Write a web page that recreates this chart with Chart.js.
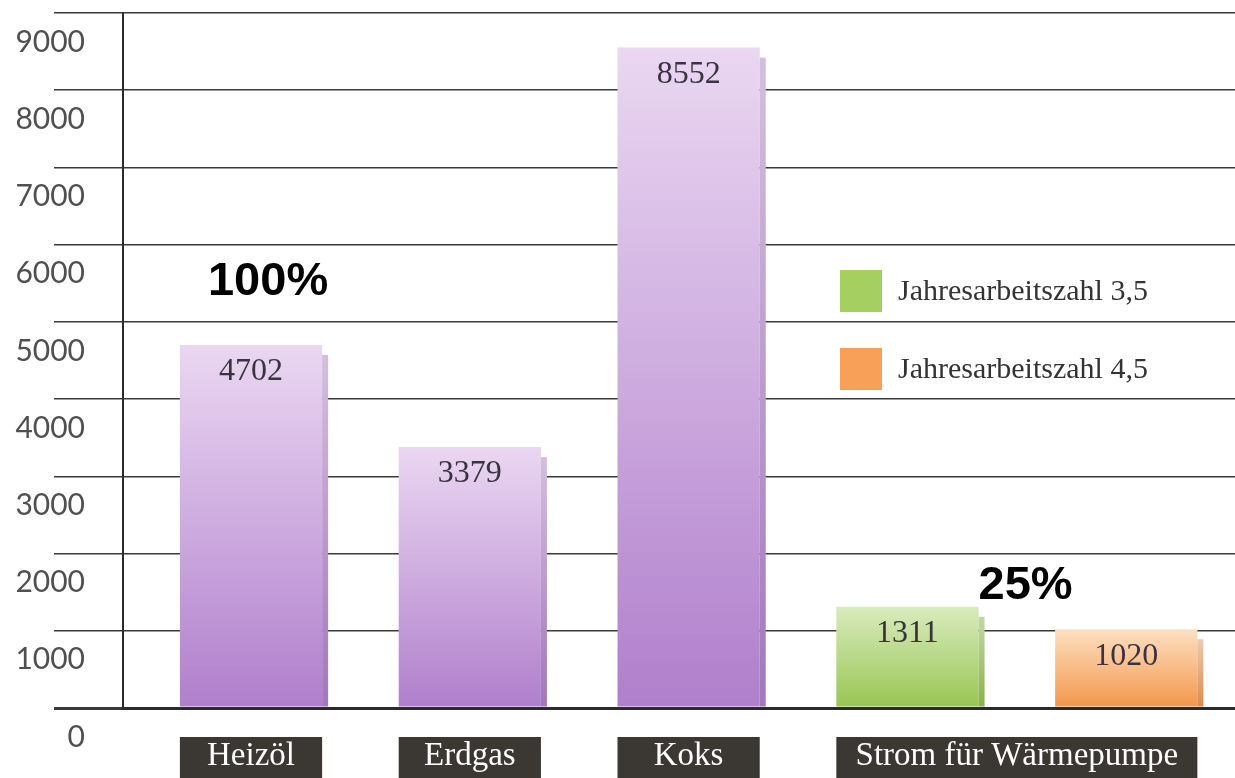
<!DOCTYPE html>
<html><head><meta charset="utf-8">
<script src="https://cdn.jsdelivr.net/npm/chart.js@4/dist/chart.umd.min.js"></script>
<style>html,body{margin:0;padding:0;background:#fff;}#wrap{width:1235px;height:778px;position:relative;}</style>
</head><body><div id="wrap"><canvas id="c"></canvas></div>
<script>
// ---- data ----
const categories = ['Heizöl', 'Erdgas', 'Koks', 'Strom für Wärmepumpe'];
const fuelValues = [4702, 3379, 8552];
const heatPumpSeries = ['Jahresarbeitszahl 3,5', 'Jahresarbeitszahl 4,5'];
const heatPumpValues = [1311, 1020];
const yTickValues = [0, 1000, 2000, 3000, 4000, 5000, 6000, 7000, 8000, 9000];
const shareLabels = ['100%', '25%'];

// slot order of bars along the x axis
const fuelSlots = [1, 2, 3];
const heatPumpSlots = [4, 5];
const categorySlots = [[1], [2], [3], [4, 5]];

// ---- styles ----
const SERIF = '"Liberation Serif", "DejaVu Serif", serif';
const fills = {
  fuel:  ['#ead7f1', '#b07fcc'],
  jaz35: ['#d9ebbd', '#98c552'],
  jaz45: ['#fde0c2', '#f3954a']
};
const sides = {
  fuel:  ['#d3bfdd', '#a277bd'],
  jaz35: ['#c3d8a6', '#88b24c'],
  jaz45: ['#ebcbb0', '#df8b47']
};
const swatch = { jaz35: '#a6cf62', jaz45: '#f89f58' };

function grad(key) {
  return (c) => {
    const ch = c.chart, area = ch.chartArea;
    if (!area || c.type !== 'data' || !c.raw) return fills[key][1];
    const yTop = ch.scales.y.getPixelForValue(c.raw.y);
    const g = ch.ctx.createLinearGradient(0, yTop, 0, area.bottom);
    g.addColorStop(0, fills[key][0]);
    g.addColorStop(1, fills[key][1]);
    return g;
  };
}

const labelBoxes = {
  id: 'labelBoxes',
  beforeDraw(chart) {
    const xs = chart.scales.x, ctx = chart.ctx;
    const half = chart.getDatasetMeta(0).data[0].width / 2;
    ctx.save();
    ctx.fillStyle = '#3b3733';
    categorySlots.forEach(sl => {
      const l = xs.getPixelForValue(Math.min(...sl)) - half;
      const r = xs.getPixelForValue(Math.max(...sl)) + half;
      ctx.fillRect(l, xs.top + 29, r - l, chart.height - xs.top - 29);
    });
    ctx.restore();
  }
};

const barDecor = {
  id: 'barDecor',
  afterDatasetsDraw(chart) {
    const ctx = chart.ctx;
    ctx.save();
    chart.data.datasets.forEach((ds, di) => {
      chart.getDatasetMeta(di).data.forEach((el, i) => {
        const w = el.width;
        const top = el.y + 10;
        const g = ctx.createLinearGradient(0, top, 0, el.base);
        g.addColorStop(0, sides[ds.key][0]);
        g.addColorStop(1, sides[ds.key][1]);
        ctx.fillStyle = g;
        ctx.fillRect(el.x + w / 2, top, 6, el.base - top);
        ctx.fillStyle = '#3a3440';
        ctx.font = '32px ' + SERIF;
        ctx.textAlign = 'center';
        ctx.textBaseline = 'middle';
        ctx.fillText(String(ds.data[i].y), el.x, el.y + 27);
      });
    });
    ctx.restore();
  }
};

const shareNotes = {
  id: 'shareNotes',
  afterDraw(chart, args, opts) {
    const ctx = chart.ctx;
    ctx.save();
    ctx.fillStyle = '#000';
    ctx.font = 'bold 47px "Liberation Sans", Arial, sans-serif';
    ctx.textAlign = 'center';
    ctx.textBaseline = 'middle';
    opts.at.forEach((p, i) => {
      ctx.fillText(shareLabels[i], chart.scales.x.getPixelForValue(p.slot), chart.scales.y.getPixelForValue(p.value));
    });
    ctx.restore();
  }
};

const sideLegend = {
  id: 'sideLegend',
  afterDraw(chart, args, opts) {
    const ctx = chart.ctx;
    ctx.save();
    ctx.font = '30px ' + SERIF;
    ctx.textBaseline = 'middle';
    ctx.textAlign = 'left';
    [1, 2].forEach((di, k) => {
      const ds = chart.data.datasets[di];
      const top = opts.top + k * opts.rowGap;
      ctx.fillStyle = swatch[ds.key];
      ctx.fillRect(opts.left, top, opts.box, opts.box);
      ctx.fillStyle = '#333';
      ctx.fillText(ds.label, opts.left + opts.box + 16, top + opts.box / 2 + 1);
    });
    ctx.restore();
  }
};

new Chart(document.getElementById('c'), {
  type: 'bar',
  data: {
    datasets: [
      { label: 'Brennstoffe', key: 'fuel', data: fuelValues.map((v, i) => ({ x: fuelSlots[i], y: v })), backgroundColor: grad('fuel') },
      { label: heatPumpSeries[0], key: 'jaz35', data: [{ x: heatPumpSlots[0], y: heatPumpValues[0] }], backgroundColor: grad('jaz35') },
      { label: heatPumpSeries[1], key: 'jaz45', data: [{ x: heatPumpSlots[1], y: heatPumpValues[1] }], backgroundColor: grad('jaz45') }
    ]
  },
  options: {
    responsive: true,
    maintainAspectRatio: false,
    animation: false,
    grouped: false,
    barPercentage: 0.65,
    categoryPercentage: 1,
    layout: { padding: { top: 13, left: 0, right: 0, bottom: 0 } },
    plugins: {
      legend: { display: false },
      tooltip: { enabled: false },
      shareNotes: { at: [{ slot: 1.078, value: 5514 }, { slot: 4.54, value: 1575 }] },
      sideLegend: { left: 840, top: 270, box: 42, rowGap: 78 }
    },
    scales: {
      x: {
        type: 'linear',
        offset: false,
        min: 0.415,
        max: 5.497,
        afterBuildTicks: s => { s.ticks = categorySlots.map(sl => ({ value: sl.reduce((a, b) => a + b, 0) / sl.length })); },
        ticks: {
          autoSkip: false, maxRotation: 0, minRotation: 0,
          callback: (v, i) => categories[i],
          color: '#ffffff',
          font: { family: SERIF, size: 33 },
          padding: 29
        },
        grid: { display: false, drawTicks: false, offset: false },
        border: { display: true, color: '#2b2b2b', width: 3 },
        afterFit: s => { s.height = 70; s.paddingLeft = 0; s.paddingRight = 0; }
      },
      y: {
        min: 0,
        max: 9000,
        afterBuildTicks: s => { s.ticks = yTickValues.map(v => ({ value: v })); },
        ticks: {
          callback: v => String(v),
          color: '#505050',
          font: { family: 'Lato', size: 30 },
          labelOffset: 29,
          padding: -31,
          crossAlign: 'near'
        },
        grid: {
          color: '#3a3a3a',
          lineWidth: c => (c.tick && c.tick.value === 0 ? 3 : 1.5),
          tickLength: 69,
          drawTicks: true
        },
        border: { color: '#2b2b2b', width: 2 },
        afterFit: s => { s.width = 123; s.paddingTop = 0; s.paddingBottom = 0; }
      }
    }
  },
  plugins: [labelBoxes, barDecor, shareNotes, sideLegend]
});
</script>
</body></html>
